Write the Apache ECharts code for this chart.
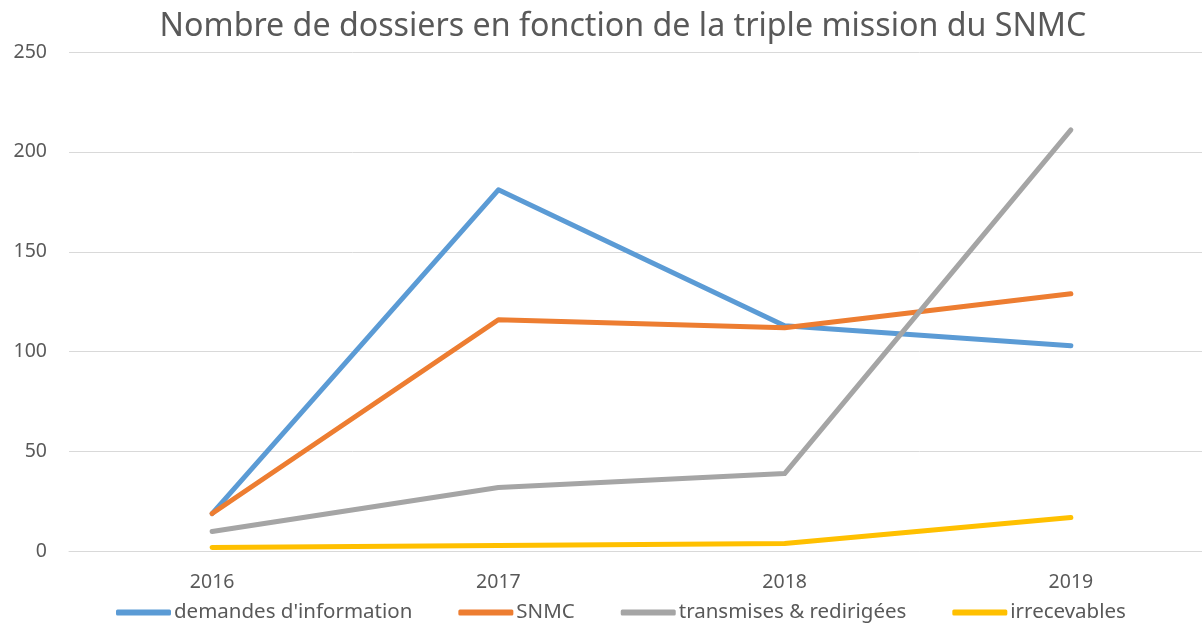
<!DOCTYPE html>
<html>
<head>
<meta charset="utf-8">
<script src="https://cdn.jsdelivr.net/npm/echarts@6/dist/echarts.min.js"></script>
<style>
  html, body { margin: 0; padding: 0; background: #fff; }
  #chart { width: 1202px; height: 624px; }
</style>
</head>
<body>
<div id="chart"></div>
<script>
// categories (years)
var years = ['2016', '2017', '2018', '2019'];

// series values
var demandesInfo = [19, 181, 113, 103];
var snmc = [19, 116, 112, 129];
var transmises = [10, 32, 39, 211];
var irrecevables = [2, 3, 4, 17];

// y axis ticks
var yMin = 0, yMax = 250, yStep = 50;

var textColor = '#595959';
var font = 'Noto Sans';

var chart = echarts.init(document.getElementById('chart'));

function lineSeries(name, data, color) {
  return {
    name: name,
    type: 'line',
    data: data,
    showSymbol: false,
    symbol: 'none',
    lineStyle: { color: color, width: 5, cap: 'round', join: 'round' },
    itemStyle: { color: color }
  };
}

var option = {
  animation: false,
  title: {
    text: 'Nombre de dossiers en fonction de la triple mission du SNMC',
    left: 618,
    textAlign: 'center',
    top: 6,
    textStyle: { color: textColor, fontFamily: font, fontWeight: 'normal', fontSize: 32.2 }
  },
  legend: {
    top: 597,
    left: 111,
    icon: 'roundRect',
    itemWidth: 55,
    itemHeight: 6,
    itemGap: 46,
    textStyle: { color: textColor, fontFamily: font, fontSize: 20.5, padding: [0, 0, 0, -2] },
    data: ['demandes d\'information', 'SNMC', 'transmises & redirigées', 'irrecevables']
  },
  // the plot runs past the right edge of the picture, so the last band is cut
  grid: { left: 69, top: 52, width: 1145, height: 499.5, outerBoundsMode: 'none', containLabel: false },
  xAxis: {
    type: 'category',
    data: years,
    boundaryGap: true,
    axisLine: { show: true, lineStyle: { color: '#D9D9D9', width: 1 } },
    axisTick: { show: false },
    axisLabel: { color: textColor, fontFamily: font, fontSize: 19.5, margin: 21 }
  },
  yAxis: {
    type: 'value',
    min: yMin,
    max: yMax,
    interval: yStep,
    axisLine: { show: false },
    axisTick: { show: false },
    splitLine: { lineStyle: { color: '#D9D9D9', width: 1 } },
    axisLabel: { color: textColor, fontFamily: font, fontSize: 19.5, margin: 22 }
  },
  series: [
    lineSeries('demandes d\'information', demandesInfo, '#5B9BD5'),
    lineSeries('SNMC', snmc, '#ED7D31'),
    lineSeries('transmises & redirigées', transmises, '#A5A5A5'),
    lineSeries('irrecevables', irrecevables, '#FFC000')
  ]
};

chart.setOption(option);
</script>
</body>
</html>
